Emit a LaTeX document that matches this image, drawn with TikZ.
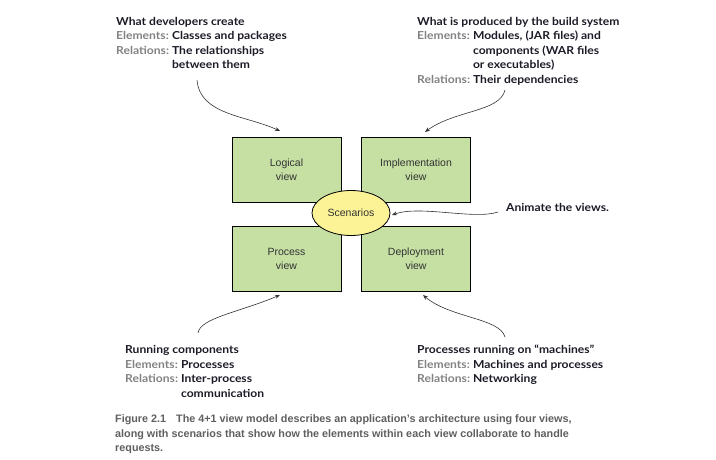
\documentclass[tikz,border=0pt]{standalone}
\usepackage{fontspec}
\setmainfont{Lato}
\newfontfamily\annfont[FakeStretch=1.1]{Lato}
\newfontfamily\capfont{Liberation Sans}
\newfontfamily\boxfont{Liberation Sans}
\usetikzlibrary{arrows.meta,shapes.geometric}
\definecolor{boxgreen}{RGB}{198,224,164}
\definecolor{ellyellow}{RGB}{252,243,150}
\definecolor{anndark}{RGB}{28,28,40}
\definecolor{anngray}{RGB}{130,130,130}
\definecolor{capgray}{RGB}{95,95,95}
\definecolor{boxtext}{RGB}{50,50,50}
\definecolor{arrowcol}{RGB}{50,50,50}
\tikzset{
  viewbox/.style={draw=black, line width=0.8pt, fill=boxgreen, minimum width=109pt, minimum height=65pt, inner sep=0pt, align=center, font=\boxfont\fontsize{10.5}{14}\selectfont, text=boxtext},
  scen/.style={ellipse, draw=black, line width=0.8pt, fill=ellyellow, minimum width=78pt, minimum height=45pt, inner sep=0pt, font=\boxfont\fontsize{10.5}{14}\selectfont, text=boxtext},
  ann/.style={anchor=base west, inner sep=0pt, text=anndark, font=\annfont\bfseries\fontsize{11}{14.5}\selectfont},
  captext/.style={anchor=base west, inner sep=0pt, text=capgray, font=\capfont\bfseries\fontsize{10.8}{14.5}\selectfont},
  conn/.style={draw=arrowcol, line width=0.6pt, -{Stealth[length=5pt,width=4pt]}}
}
\newcommand{\lbl}[1]{\textcolor{anngray}{#1}}
\begin{document}
\begin{tikzpicture}[x=1pt,y=-1pt]
\useasboundingbox (0,0) rectangle (716,460);
% view boxes
\node[viewbox] (logical) at (286.5,170) {Logical\\view};
\node[viewbox] (impl) at (416,170) {Implementation\\view};
\node[viewbox] (process) at (286.5,258.5) {Process\\view};
\node[viewbox] (deploy) at (416,258.5) {Deployment\\view};
\node[scen] (scen) at (351,213) {Scenarios};
% annotations
\node[ann] (tl) at (116,25.5) {\begin{tabular}[t]{@{}l@{\ }l@{}}
\multicolumn{2}{@{}l@{}}{What developers create}\\
\lbl{Elements:} & Classes and packages\\
\lbl{Relations:} & The relationships\\
 & between them
\end{tabular}};
\node[ann] (tr) at (417,25.5) {\begin{tabular}[t]{@{}l@{\ }l@{}}
\multicolumn{2}{@{}l@{}}{What is produced by the build system}\\
\lbl{Elements:} & Modules, (JAR files) and\\
 & components (WAR files\\
 & or executables)\\
\lbl{Relations:} & Their dependencies
\end{tabular}};
\node[ann] (bl) at (125,353.5) {\begin{tabular}[t]{@{}l@{\ }l@{}}
\multicolumn{2}{@{}l@{}}{Running components}\\
\lbl{Elements:} & Processes\\
\lbl{Relations:} & Inter-process\\
 & communication
\end{tabular}};
\node[ann] (br) at (417,353.5) {\begin{tabular}[t]{@{}l@{\ }l@{}}
\multicolumn{2}{@{}l@{}}{Processes running on “machines”}\\
\lbl{Elements:} & Machines and processes\\
\lbl{Relations:} & Networking
\end{tabular}};
\node[ann] (anim) at (506,211.5) {Animate the views.};
% caption
\node[captext] (caption) at (115,422.5) {\begin{tabular}[t]{@{}l@{}}
Figure 2.1\hspace{10pt}The 4+1 view model describes an application’s architecture using four views,\\
along with scenarios that show how the elements within each view collaborate to handle\\
requests.
\end{tabular}};
% connector ends
\coordinate (tlS) at (197,80);
\coordinate (tlE) at (280,131);
\coordinate (trS) at (505,90);
\coordinate (trE) at (425,132);
\coordinate (blS) at (198,333);
\coordinate (blE) at (280,295);
\coordinate (brS) at (505,337);
\coordinate (brE) at (423,295);
\coordinate (anS) at (498,212);
\coordinate (anE) at (392,215);
\draw[conn] (tlS) .. controls (200,115) and (245,115) .. (tlE);
\draw[conn] (trS) .. controls (500,112) and (455,110) .. (trE);
\draw[conn] (blS) .. controls (200,318) and (240,312) .. (blE);
\draw[conn] (brS) .. controls (500,318) and (450,318) .. (brE);
\draw[conn] (anS) .. controls (475,220) and (420,205) .. (anE);
\end{tikzpicture}
\end{document}
